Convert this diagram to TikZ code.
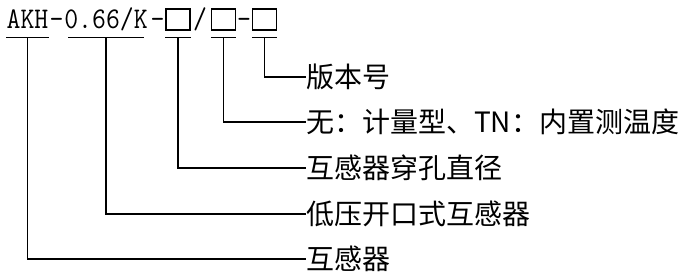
\documentclass[tikz,border=0pt]{standalone}
\usepackage{fontspec}
\usepackage{graphicx}
\newfontfamily\cjk{Noto Sans CJK SC}
\usetikzlibrary{positioning}
\newcommand\mono[1]{\scalebox{0.9}[1]{#1}}

\tikzset{
  code/.style={font=\ttfamily\fontsize{30}{33}\selectfont, anchor=base, inner xsep=0pt, inner ysep=0pt, text depth=2pt},
  slot/.style={draw, line width=1.2pt, minimum width=24pt, minimum height=21pt, inner sep=0pt},
  desc/.style={font=\cjk\fontsize{28}{32}\selectfont, anchor=west, inner sep=0pt},
  lead/.style={line width=1.2pt}
}

\begin{document}
\begin{tikzpicture}[x=1pt,y=-1pt]
  \useasboundingbox (0,0) rectangle (685,279);
  % model code
  \node[code] (akh) at (27.5,28) {\mono{AKH}};
  \node[code] (d1) at (56.5,28) {\mono{-}};
  \node[code,inner xsep=-4pt] (volt) at (106,28) {\mono{0.66/K}};
  \node[code] (d2) at (157.5,28) {\mono{-}};
  \node[slot] (b1) at (178,19.5) {};
  \node[code] (s1) at (200,28) {\mono{/}};
  \node[slot] (b2) at (223.5,19.5) {};
  \node[code] (d3) at (244,28) {\mono{-}};
  \node[slot] (b3) at (264.5,19.5) {};
  % meanings
  \node[desc] (ver) at (306,77) {版本号};
  \node[desc] (temp) at (306,122) {无：计量型、TN：内置测温度};
  \node[desc] (hole) at (306,168) {互感器穿孔直径};
  \node[desc] (kind) at (306,214) {低压开口式互感器};
  \node[desc] (ct) at (306,259) {互感器};
  \foreach \n in {akh,volt,b1,b2,b3}
    \draw[lead] ([yshift=-7pt]\n.south west) -- ([yshift=-7pt]\n.south east);
  \foreach \n/\l in {b3/ver,b2/temp,b1/hole,volt/kind,akh/ct}
    \draw[lead] ([yshift=-7pt]\n.south) |- (\l.west);
\end{tikzpicture}
\end{document}
